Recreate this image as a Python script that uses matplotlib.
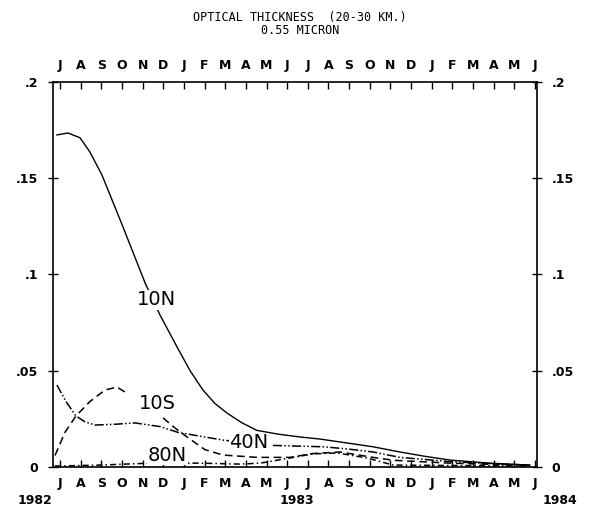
import matplotlib
matplotlib.use('Agg')
import matplotlib.pyplot as plt
import matplotlib.transforms as mtransforms

# month labels, Jul 1982 .. Jun 1984 (x = month index)
months = ['J', 'A', 'S', 'O', 'N', 'D', 'J', 'F', 'M', 'A', 'M', 'J',
          'J', 'A', 'S', 'O', 'N', 'D', 'J', 'F', 'M', 'A', 'M', 'J']
years = ['1982', '1983', '1984']
year_pos = [-0.037, 0.504, 1.047]   # axes fraction
yticks = [0, .05, .1, .15, .2]
ytick_labels = ['0', '.05', '.1', '.15', '.2']

# curves (month index, optical thickness)
x_10n = [-0.15, 0.39, 0.97, 1.45, 2.03, 3.05, 4.12, 4.84, 5.67, 6.3, 6.92, 7.5, 8.09,
         8.8, 9.54, 10.6, 11.62, 12.6, 13.56, 15.16, 16.46, 17.7, 18.89, 20.8, 22.76]
y_10n = [0.1725, 0.1735, 0.171, 0.1636, 0.1517, 0.1247, 0.0956, 0.079, 0.0623, 0.050, 0.040,
         0.033, 0.028, 0.023, 0.019, 0.017, 0.0156, 0.0145, 0.013, 0.0105, 0.0078, 0.0055,
         0.0036, 0.002, 0.001]

x_10s = [-0.24, 0.24, 0.77, 1.45, 2.18, 2.76, 3.29, 4.99, 5.6, 6.15, 7.02, 7.89, 9.54,
         11.14, 12.25, 13.56, 15.16, 16.13, 18.89, 22.76]
y_10s = [0.006, 0.018, 0.0265, 0.034, 0.040, 0.0415, 0.038, 0.0255, 0.020, 0.0156, 0.009,
         0.0062, 0.005, 0.005, 0.007, 0.0078, 0.005, 0.0035, 0.002, 0.0008]

x_40n = [-0.15, 0.29, 0.77, 1.2, 1.69, 2.66, 3.63, 4.84, 5.71, 6.78, 7.89, 8.3,
         10.0, 10.31, 12.74, 13.8, 15.16, 16.46, 18.89, 21.3, 22.76]
y_40n = [0.0426, 0.034, 0.0265, 0.0235, 0.0218, 0.0222, 0.0229, 0.021, 0.018, 0.016,
         0.014, 0.0135, None, 0.0112, 0.0105, 0.0095, 0.0078, 0.005, 0.0028, 0.0015, 0.001]

x_80n = [-0.24, 1.94, 4.36, 6.78, 8.72, 9.7, 11.14, 12.25, 13.41, 14.87, 16.13, 18.89, 22.76]
y_80n = [0.0005, 0.001, 0.002, 0.002, 0.0015, 0.002, 0.0047, 0.0068, 0.0073, 0.0047,
         0.001, 0.0008, 0.0005]

# curve labels: (text, month index, value)
labels = [('10N', 4.65, 0.0868), ('10S', 4.7, 0.0332),
          ('40N', 9.15, 0.0125), ('80N', 5.2, 0.0062)]

font = 'DejaVu Sans'

fig = plt.figure(figsize=(6.14, 5.12), dpi=100)
ax = fig.add_axes([0.0863, 0.0879, 0.7883, 0.752])

# 10S dashes stop short of its label
ax.plot(x_10n, y_10n, color='black', lw=1.0)
ax.plot(x_10s[:7], y_10s[:7], color='black', lw=1.1, dashes=(5, 3))
ax.plot(x_10s[7:], y_10s[7:], color='black', lw=1.1, dashes=(5, 3))
y40 = [float('nan') if v is None else v for v in y_40n]
ax.plot(x_40n, y40, color='black', lw=1.1, dashes=(6, 1.5, 1, 1.5, 1, 1.5))
ax.plot(x_80n, y_80n, color='black', lw=1.1, dashes=(4, 2, 1, 2))

for txt, xm, yv in labels:
    ax.text(xm, yv, txt, ha='center', va='center', fontsize=14, family=font,
            bbox=dict(facecolor='white', edgecolor='none', pad=0.5))

ax.set_xlim(-0.34, 23.1)
ax.set_ylim(0, 0.2)

ax.set_xticks(range(len(months)))
ax.set_xticklabels(months, family=font, fontsize=9)
ax.tick_params(axis='x', direction='in', length=5, width=1, pad=7,
               top=True, labeltop=True, bottom=True, labelbottom=True)
ax.set_yticks(yticks)
ax.set_yticklabels(ytick_labels, family=font, fontsize=9, fontweight='bold')
ax.tick_params(axis='y', direction='inout', length=7, width=1, pad=7,
               left=True, right=True, labelleft=True, labelright=True)
for lab in ax.get_xticklabels() + ax.get_xticklabels(minor=False):
    lab.set_fontweight('bold')
for sp in ax.spines.values():
    sp.set_linewidth(1.2)

trans = mtransforms.blended_transform_factory(ax.transAxes, ax.transAxes)
for yr, xp in zip(years, year_pos):
    ax.text(xp, -0.087, yr, transform=trans, ha='center', va='center',
            fontsize=9, family=font, fontweight='bold')

fig.text(300 / 614, 1 - 17 / 512, 'OPTICAL THICKNESS  (20-30 KM.)', ha='center',
         va='center', fontsize=8.5, family='DejaVu Sans Mono')
fig.text(300 / 614, 1 - 30 / 512, '0.55 MICRON', ha='center', va='center',
         fontsize=8.5, family='DejaVu Sans Mono')

fig.savefig('out.png', dpi=100)
